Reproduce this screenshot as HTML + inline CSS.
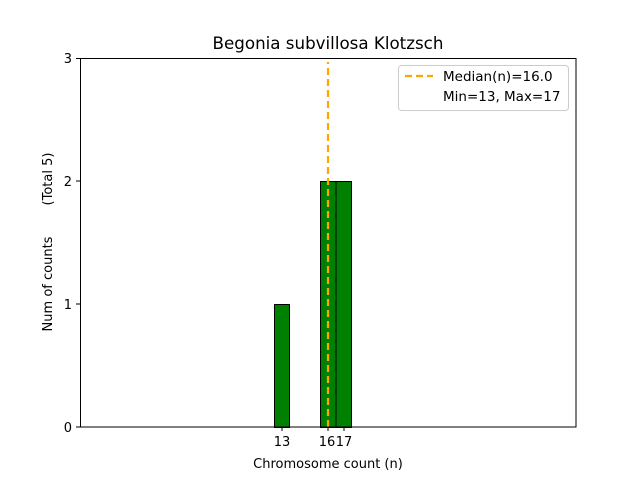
<!DOCTYPE html>
<html><head><style>body{margin:0;background:#fff}svg{display:block}</style></head><body>
<svg width="640" height="480" xmlns="http://www.w3.org/2000/svg" font-family="DejaVu Sans, Liberation Sans, sans-serif">
<rect width="640" height="480" fill="#fff"/>
<text x="328" y="49" font-size="16.7" text-anchor="middle">Begonia subvillosa Klotzsch</text>
<g stroke="#000" stroke-width="1">
<rect x="274.5" y="304.5" width="15" height="123" fill="#008000"/>
<rect x="320.5" y="181.5" width="15.5" height="246" fill="#008000"/>
<rect x="336" y="181.5" width="15.5" height="246" fill="#008000"/>
<line x1="351" y1="427" x2="397" y2="427"/>
</g>
<line x1="328" y1="427" x2="328" y2="62" stroke="#FFA500" stroke-width="2.2" stroke-dasharray="7,4"/>
<rect x="80.5" y="58.5" width="495.5" height="368.5" fill="none" stroke="#000"/>
<g stroke="#000">
<line x1="76" y1="427" x2="80" y2="427"/><line x1="76" y1="304" x2="80" y2="304"/><line x1="76" y1="181" x2="80" y2="181"/><line x1="76" y1="58.5" x2="80" y2="58.5"/>
<line x1="282" y1="427" x2="282" y2="431"/><line x1="328" y1="427" x2="328" y2="431"/><line x1="344" y1="427" x2="344" y2="431"/>
</g>
<g font-size="13" text-anchor="end">
<text x="72" y="432">0</text><text x="72" y="309">1</text><text x="72" y="186">2</text><text x="72" y="63">3</text>
</g>
<g font-size="13" text-anchor="middle">
<text x="282" y="446">13</text><text x="327" y="446">16</text><text x="344" y="446">17</text>
<text x="328" y="468">Chromosome count (n)</text>
</g>
<text transform="translate(52,284) rotate(-90)" font-size="13" text-anchor="middle">Num of counts</text>
<text transform="translate(52,179) rotate(-90)" font-size="13" text-anchor="middle">(Total 5)</text>
<rect x="398.5" y="65.5" width="170" height="45" rx="3" fill="#fff" stroke="#ccc"/>
<line x1="405" y1="76" x2="433" y2="76" stroke="#FFA500" stroke-width="2.2" stroke-dasharray="7,4"/>
<g font-size="13.5"><text x="443" y="81">Median(n)=16.0</text><text x="443" y="101">Min=13, Max=17</text></g>
</svg>
</body></html>
